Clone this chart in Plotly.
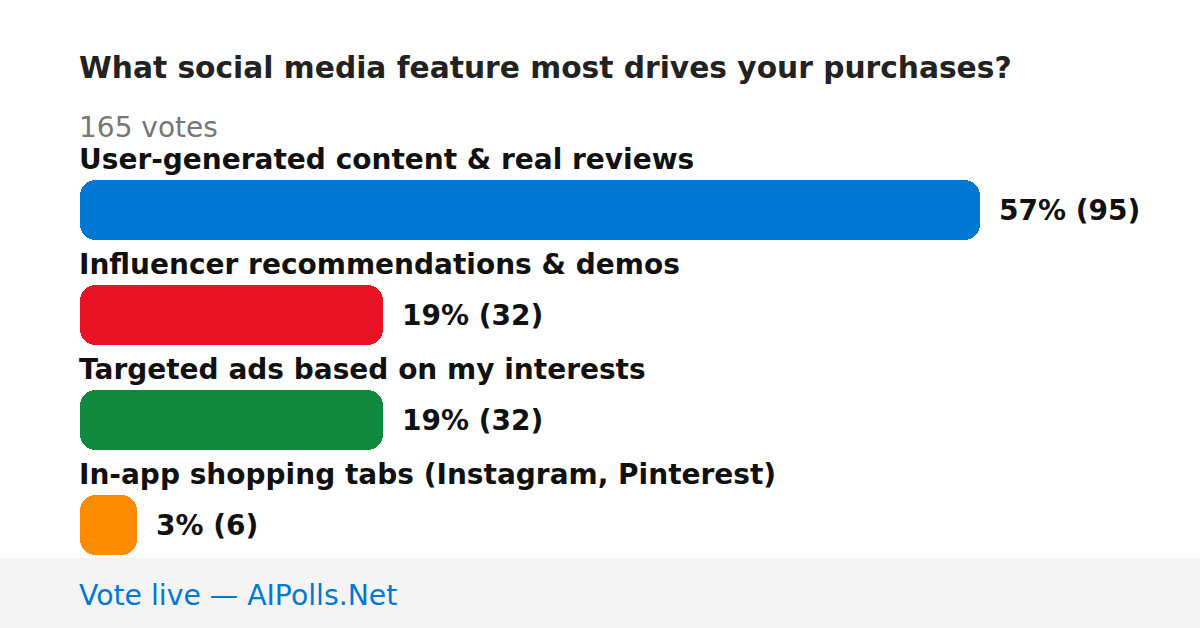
import plotly.graph_objects as go

title = "What social media feature most drives your purchases?"
total_label = "165 votes"
categories = [
    "User-generated content & real reviews",
    "Influencer recommendations & demos",
    "Targeted ads based on my interests",
    "In-app shopping tabs (Instagram, Pinterest)",
]
votes = [95, 32, 32, 6]
percents = [57, 19, 19, 3]
colors = ["#0078d4", "#e81224", "#10893e", "#ff8c00"]
footer = "Vote live — AIPolls.Net"

W, H = 1200, 628
left_px = 80
bar_max_px = 900
row0_px = 210
row_step = 105
bar_h_px = 60
radius = 16
pad = -3

max_v = max(votes)
px_per_unit = bar_max_px / max_v
x_range = [-left_px / px_per_unit, (W - left_px) / px_per_unit]
y_range = [(H - row0_px) / row_step, -row0_px / row_step]

FONT = "DejaVu Sans"
rows = list(range(len(categories)))
bw = bar_h_px / row_step

fig = go.Figure()
fig.add_trace(go.Bar(
    y=rows, x=votes, base=[0] * len(votes),
    orientation="h", width=bw,
    marker=dict(color=colors, cornerradius=radius, line=dict(width=0)),
    hoverinfo="skip", showlegend=False,
))

ann = []
ann.append(dict(x=left_px / W, y=1 - 68 / H, xref="paper", yref="paper", text=title,
                showarrow=False, xanchor="left", yanchor="middle", xshift=pad,
                font=dict(family=FONT, size=29.7, color="#222222", weight="bold")))
ann.append(dict(x=left_px / W, y=1 - 127 / H, xref="paper", yref="paper", text=total_label,
                showarrow=False, xanchor="left", yanchor="middle", xshift=pad,
                font=dict(family=FONT, size=28, color="#777777")))
for i, (c, v, p) in enumerate(zip(categories, votes, percents)):
    ann.append(dict(x=left_px / W, y=i, xref="paper", yref="y", text=c, yshift=51, xshift=pad,
                    showarrow=False, xanchor="left", yanchor="middle",
                    font=dict(family=FONT, size=28, color="#111111", weight="bold")))
    ann.append(dict(x=v, y=i, xref="x", yref="y", text=f"{p}% ({v})", xshift=20 + pad,
                    showarrow=False, xanchor="left", yanchor="middle",
                    font=dict(family=FONT, size=28, color="#111111", weight="bold")))
ann.append(dict(x=left_px / W, y=1 - 595 / H, xref="paper", yref="paper", text=footer,
                showarrow=False, xanchor="left", yanchor="middle", xshift=pad,
                font=dict(family=FONT, size=28.3, color="#0078d4")))

fig.update_layout(
    width=W, height=H,
    margin=dict(l=0, r=0, t=0, b=0),
    paper_bgcolor="white", plot_bgcolor="rgba(0,0,0,0)",
    xaxis=dict(range=x_range, visible=False, fixedrange=True),
    yaxis=dict(range=y_range, visible=False, fixedrange=True),
    annotations=ann,
    shapes=[dict(type="rect", xref="paper", yref="paper", x0=0, x1=1, y0=0, y1=70 / H,
                 fillcolor="#f4f4f4", line=dict(width=0), layer="below")],
    bargap=0,
)

fig.write_html("out.html", config={"displayModeBar": False},
               post_script="document.body.style.margin='0';")
